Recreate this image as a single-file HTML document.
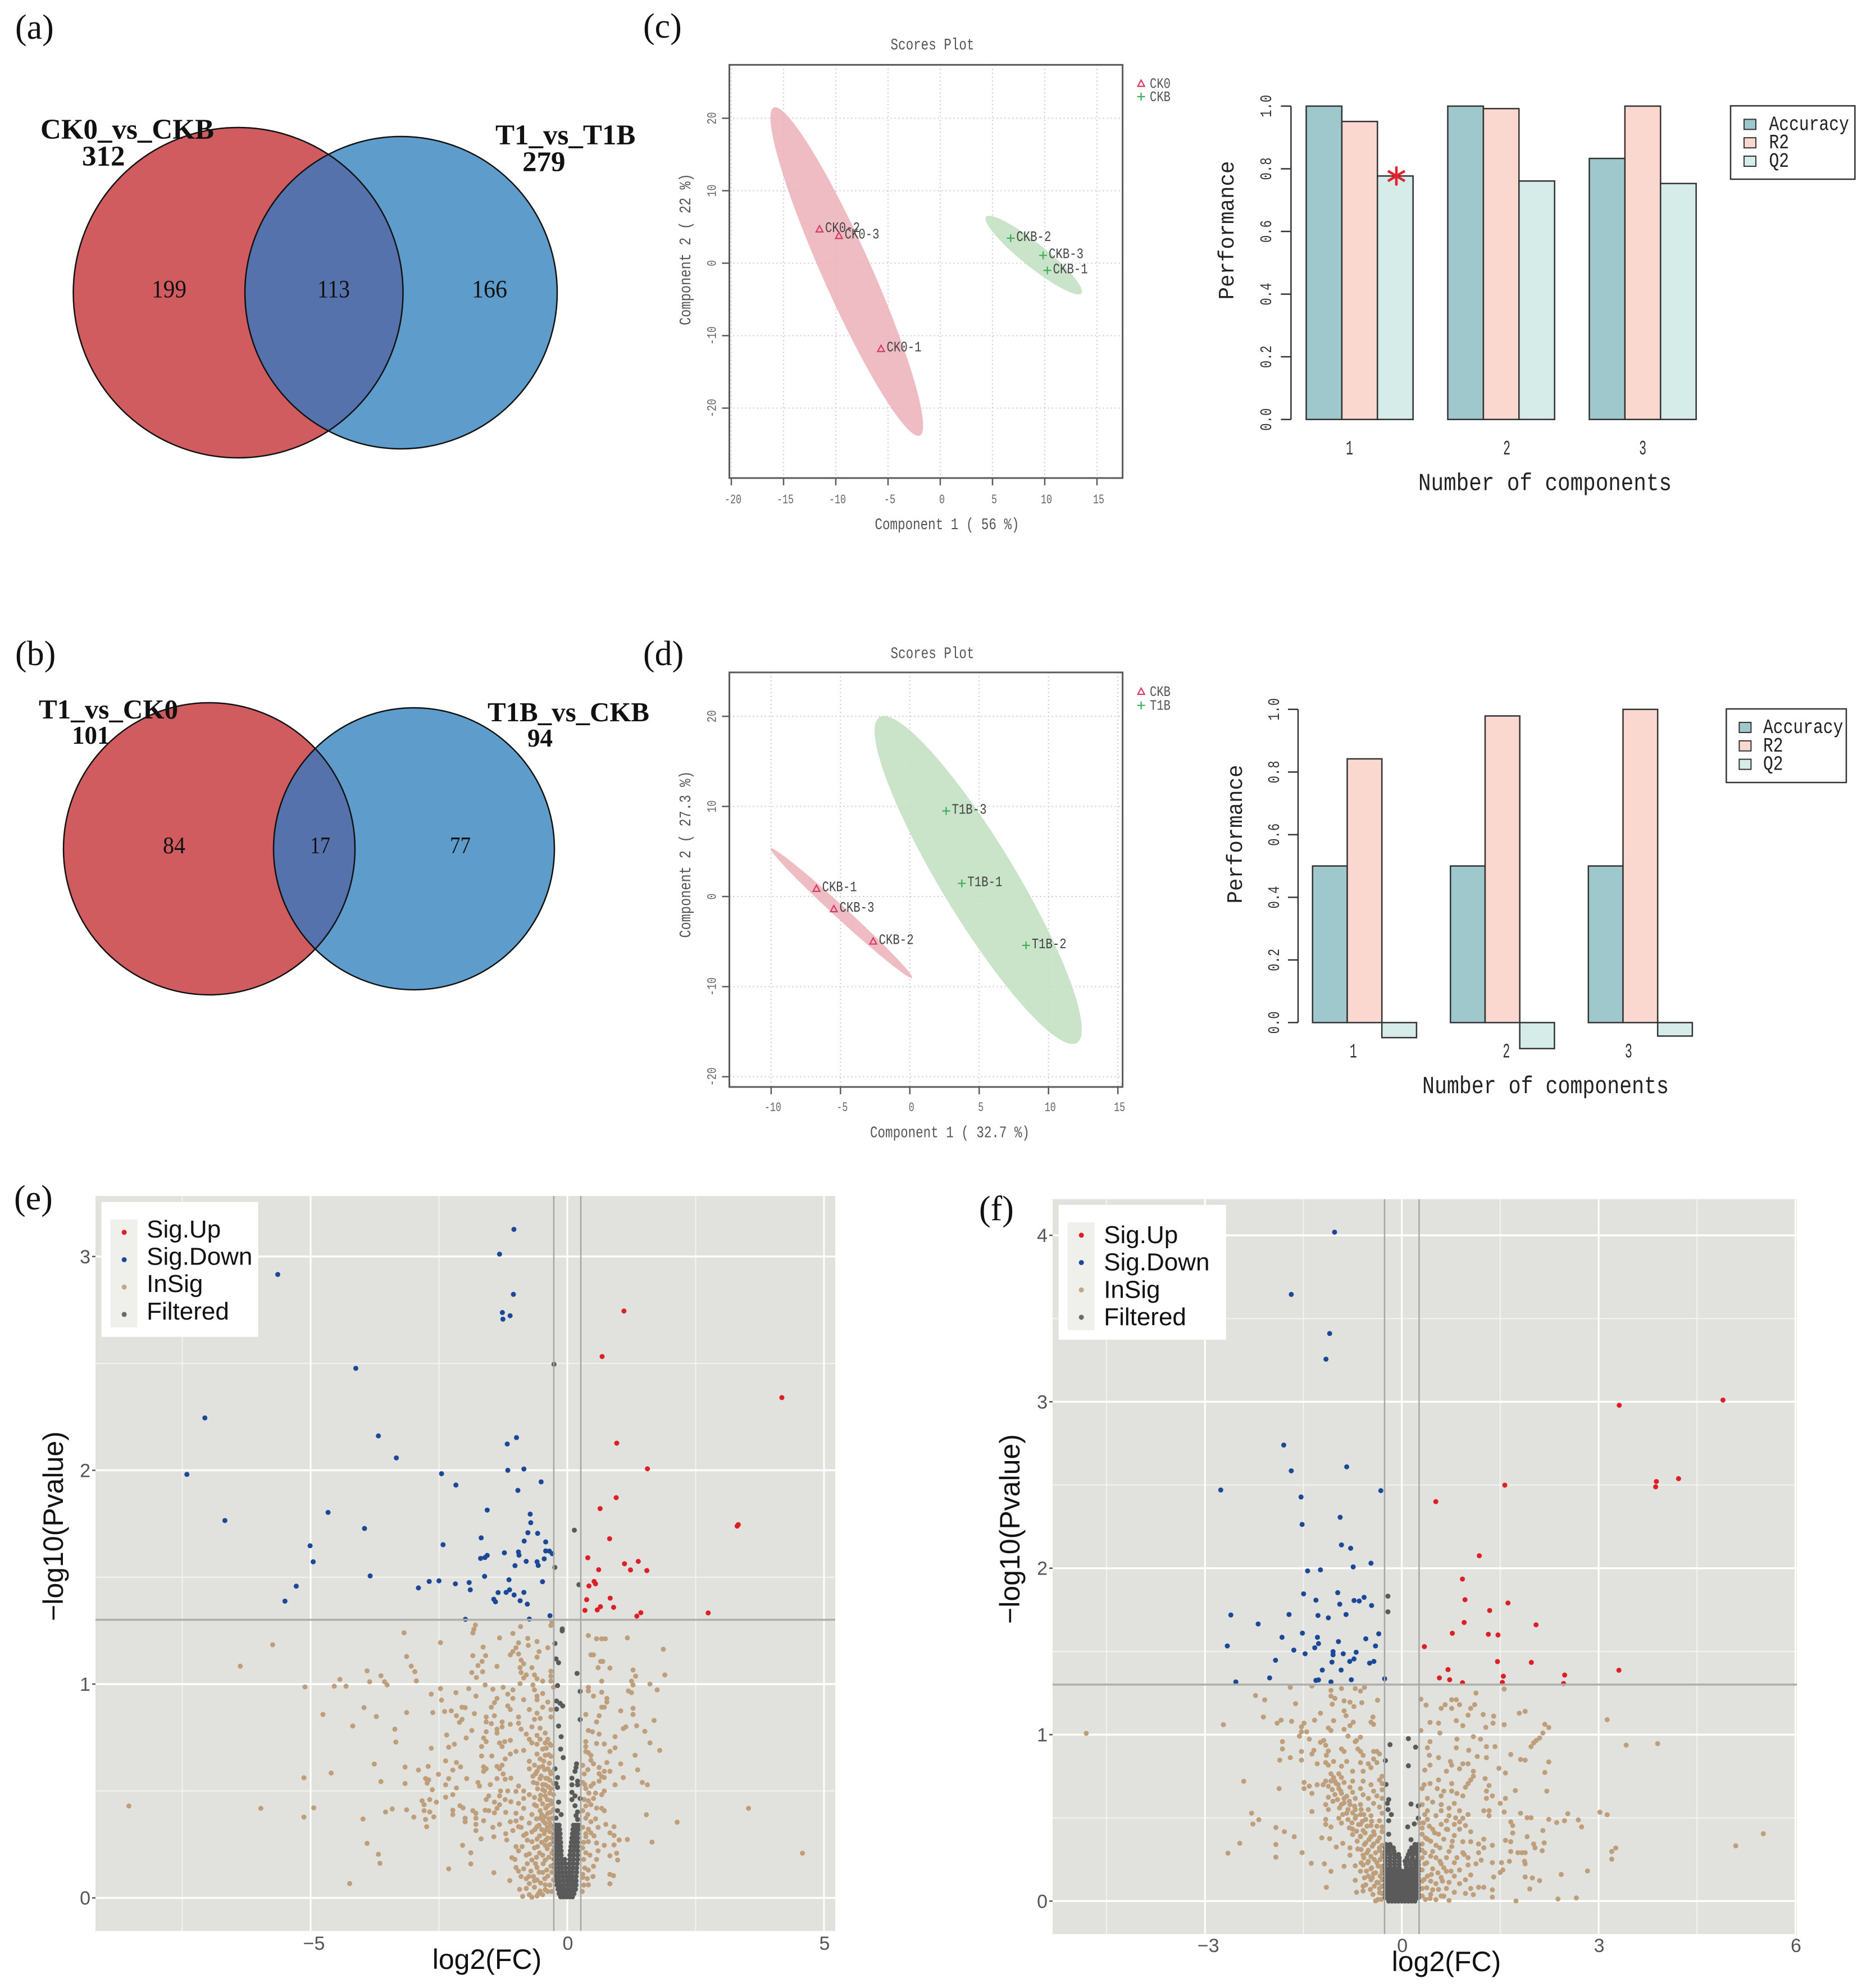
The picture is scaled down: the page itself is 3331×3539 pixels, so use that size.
<!DOCTYPE html>
<html lang="en">
<head>
<meta charset="utf-8">
<title>Venn, PLS-DA and volcano plots</title>
<style>
html,body{margin:0;padding:0;background:#fff;}
svg{display:block;}
</style>
</head>
<body>
<svg id="figure" xmlns="http://www.w3.org/2000/svg" width="3331" height="3539" viewBox="0 0 3331 3539">
<defs>
<clipPath id="clip-a"><circle cx="714" cy="521" r="278"/></clipPath>
<clipPath id="clip-b"><ellipse cx="737" cy="1511" rx="250" ry="251"/></clipPath>
</defs>
<rect x="0" y="0" width="3331" height="3539" fill="#ffffff"/>

<g font-family="'Liberation Serif',serif" fill="#111">
<ellipse cx="424" cy="521" rx="293.5" ry="294" fill="#d15c60"/>
<circle cx="714" cy="521" r="278" fill="#5e9ccb"/>
<ellipse cx="424" cy="521" rx="293.5" ry="294" fill="#5572ac" clip-path="url(#clip-a)"/>
<ellipse cx="424" cy="521" rx="293.5" ry="294" fill="none" stroke="#111" stroke-width="2.5"/>
<circle cx="714" cy="521" r="278" fill="none" stroke="#111" stroke-width="2.5"/>
<text x="72" y="247" font-size="51" font-weight="bold" textLength="309" lengthAdjust="spacingAndGlyphs">CK0_vs_CKB</text>
<text x="146" y="295" font-size="51" font-weight="bold">312</text>
<text x="882" y="257" font-size="51" font-weight="bold">T1_vs_T1B</text>
<text x="930" y="305" font-size="51" font-weight="bold">279</text>
<text x="270" y="529" font-size="44" textLength="62" lengthAdjust="spacingAndGlyphs">199</text>
<text x="565" y="529" font-size="44" textLength="58" lengthAdjust="spacingAndGlyphs">113</text>
<text x="840" y="529" font-size="44" textLength="63" lengthAdjust="spacingAndGlyphs">166</text>
</g>

<g font-family="'Liberation Serif',serif" fill="#111">
<ellipse cx="372.5" cy="1511" rx="259.5" ry="260" fill="#d15c60"/>
<ellipse cx="737" cy="1511" rx="250" ry="251" fill="#5e9ccb"/>
<ellipse cx="372.5" cy="1511" rx="259.5" ry="260" fill="#5572ac" clip-path="url(#clip-b)"/>
<ellipse cx="372.5" cy="1511" rx="259.5" ry="260" fill="none" stroke="#111" stroke-width="2.5"/>
<ellipse cx="737" cy="1511" rx="250" ry="251" fill="none" stroke="#111" stroke-width="2.5"/>
<text x="69" y="1279" font-size="49" font-weight="bold" textLength="248" lengthAdjust="spacingAndGlyphs">T1_vs_CK0</text>
<text x="128" y="1324" font-size="45" font-weight="bold">101</text>
<text x="868" y="1284" font-size="49" font-weight="bold" textLength="288" lengthAdjust="spacingAndGlyphs">T1B_vs_CKB</text>
<text x="939" y="1329" font-size="45" font-weight="bold">94</text>
<text x="290" y="1519" font-size="42" textLength="40" lengthAdjust="spacingAndGlyphs">84</text>
<text x="552" y="1519" font-size="42" textLength="36" lengthAdjust="spacingAndGlyphs">17</text>
<text x="801" y="1519" font-size="42" textLength="37" lengthAdjust="spacingAndGlyphs">77</text>
</g>

<g font-family="'Liberation Serif',serif" font-size="62" fill="#111">
<text x="27" y="69">(a)</text>
<text x="27" y="1184">(b)</text>
<text x="1145" y="67">(c)</text>
<text x="1145" y="1184">(d)</text>
<text x="25" y="2153">(e)</text>
<text x="1743" y="2172">(f)</text>
</g>
<g id="charts"></g>
</svg>

<script>
/* ---------- scores plot data ---------- */
const scoresCLabels=['CK0-1','CK0-2','CK0-3','CKB-1','CKB-2','CKB-3'];
const scoresCComp1=[-5.67,-11.56,-9.7,10.25,6.74,9.84];
const scoresCComp2=[-11.8,4.7,3.8,-1.0,3.45,1.07];
const scoresCGroups=[0,0,0,1,1,1];
const scoresCGroupNames=['CK0','CKB'];
const scoresCEllipseX=[-8.95,8.95];
const scoresCEllipseY=[-1.16,1.12];
const scoresCXTicks=[-20,-15,-10,-5,0,5,10,15];
const scoresCYTicks=[-20,-10,0,10,20];

const scoresDLabels=['CKB-1','CKB-2','CKB-3','T1B-1','T1B-2','T1B-3'];
const scoresDComp1=[-6.73,-2.64,-5.48,3.75,8.38,2.62];
const scoresDComp2=[0.89,-4.96,-1.37,1.46,-5.42,9.5];
const scoresDGroups=[0,0,0,1,1,1];
const scoresDGroupNames=['CKB','T1B'];
const scoresDEllipseX=[-4.93,4.93];
const scoresDEllipseY=[-1.85,1.84];
const scoresDXTicks=[-10,-5,0,5,10,15];
const scoresDYTicks=[-20,-10,0,10,20];

/* ---------- performance bars data ---------- */
const perfCategories=['1','2','3'];
const perfSeriesNames=['Accuracy','R2','Q2'];
const perfTicks=[0,0.2,0.4,0.6,0.8,1.0];
const perfCAccuracy=[1.0,1.0,0.833];
const perfCR2=[0.951,0.992,1.0];
const perfCQ2=[0.777,0.761,0.753];
const perfDAccuracy=[0.5,0.5,0.5];
const perfDR2=[0.842,0.979,1.0];
const perfDQ2=[-0.048,-0.083,-0.043];

/* ---------- volcano e data: [log2FC, -log10P] ---------- */
const volcanoLegendNames=['Sig.Up','Sig.Down','InSig','Filtered'];
const volcanoEYTicks=[0,1,2,3];
const volcanoEYMinor=[0.5,1.5,2.5];
const volcanoEXTicks=[-5,0,5];
const volcanoEXMinor=[-7.5,-2.5,2.5];
const volcanoEUp=[[1.103,2.745],[.678,2.532],[4.179,2.34],[.963,2.127],[1.561,2.007],[.952,1.872],[.639,1.821],[3.33,1.746],[3.308,1.739],[.824,1.68],[.399,1.591],[1.382,1.574],[1.114,1.563],[.611,1.535],[1.231,1.534],[1.549,1.531],[.522,1.48],[.55,1.469],[.422,1.459],[.835,1.402],[.377,1.395],[.902,1.359],[.645,1.362],[.583,1.347],[.343,1.345],[1.432,1.334],[1.354,1.318],[2.744,1.333]];
const volcanoEDown=[[-5.64,2.916],[-4.12,2.477],[-7.06,2.245],[-3.68,2.161],[-3.33,2.058],[-7.41,1.981],[-2.45,1.984],[-4.66,1.803],[-6.67,1.765],[-3.95,1.728],[-5.01,1.647],[-2.42,1.652],[-4.95,1.572],[-3.84,1.506],[-5.28,1.458],[-2.9,1.45],[-2.69,1.48],[-2.5,1.483],[-5.5,1.388],[-1.04,3.127],[-1.32,3.011],[-1.05,2.823],[-1.265,2.738],[-1.114,2.723],[-1.254,2.707],[-.99,2.153],[-1.17,2.123],[-1.159,2.0],[-.846,2.006],[-2.17,1.931],[-.51,1.946],[-.963,1.906],[-1.56,1.814],[-.723,1.795],[-.712,1.755],[-.768,1.708],[-.578,1.705],[-1.678,1.684],[-.84,1.669],[-.421,1.665],[-1.226,1.614],[-.952,1.618],[-.941,1.603],[-.421,1.623],[-.349,1.622],[-.293,1.61],[-1.689,1.588],[-1.605,1.592],[-1.56,1.602],[-.801,1.574],[-.589,1.572],[-.567,1.555],[-.45,1.586],[-1.019,1.554],[-1.611,1.504],[-1.136,1.488],[-.483,1.479],[-2.18,1.469],[-1.912,1.475],[-1.89,1.441],[-1.348,1.428],[-1.192,1.429],[-1.125,1.441],[-1.036,1.417],[-.846,1.429],[-1.432,1.397],[-1.399,1.385],[-.919,1.39],[-.779,1.374],[-1.985,1.303],[-.74,1.304],[-.338,1.32]];
const volcanoEInsig=[[-8.54,.43],[-5.97,.419],[-4.94,.421],[-5.13,.378],[-5.13,.562],[-4.6,.584],[-6.37,1.084],[-5.74,1.184],[-5.11,.987],[-4.54,.99],[-4.43,1.022],[-4.31,.99],[-3.9,1.062],[-3.85,1.011],[-3.63,1.039],[-3.56,1.011],[-3.51,.996],[-3.18,1.24],[-2.47,1.194],[-3.13,1.129],[-3.04,1.084],[-2.97,1.058],[-2.94,1.015],[-4.76,.858],[-3.96,.89],[-3.72,.848],[-4.18,.804],[-3.13,.867],[-3.36,.789],[-3.34,.729],[-3.76,.626],[-3.16,.612],[-2.9,.598],[-2.71,.615],[-3.63,.544],[-3.16,.535],[-3.98,.369],[-3.54,.402],[-3.41,.416],[-3.13,.412],[-2.99,.378],[-3.9,.255],[-3.68,.204],[-3.65,.162],[-4.24,.067],[-2.31,.136],[-1.43,.118],[-1.12,.081],[-1.88,.159],[-2.04,.246],[-1.88,.211],[-1.68,.276],[-1.43,.286],[-1.18,.271],
[3.53,.419],[4.58,.209],[2.14,.354],[1.54,.389],[1.65,.261],[1.56,.529],[1.46,.54],[1.09,.563],[1.37,.599],[1.61,.725],[1.8,.69],[1.32,.667],[1.51,.779],[1.69,.83],[1.35,.805],[1.09,.792],[1.14,.8],[1.75,.973],[1.61,1.0],[1.9,1.043],[1.87,1.163],[1.17,1.216],[.67,1.212],[.57,1.212],[.74,1.212],[.41,1.227],[.46,1.137],[.51,1.137],[.65,1.106],[.69,1.106],[.6,1.077],[.83,1.075],[1.28,1.066],[1.33,1.037],[1.25,1.014],[1.28,.996],[.67,1.014],[.41,.985],[.41,.968],[.67,.962],[.51,.944],[.77,.933],[.77,.916],[.67,.892],[.72,.892],[1.04,.875],[1.28,.887],[1.28,.858],[.36,.858],[.62,.852],[.57,.823],[1.19,.968],[1.25,.96],[.41,.783],[.62,.766],[.49,.777],[.93,.754],[.36,.731],[.57,.722],[.72,.72],[.93,.702],[.83,.685],[.36,.708],[.36,.685],[.46,.667],[.41,.679],[.46,.644],[.77,.633],[1.04,.627],[.51,.627],[.62,.61],[.72,.592],[.83,.592],[.62,.581],[.67,.567],[.72,.563],[.62,.546],[.51,.535],[.93,.529],[.3,.54],[.46,.523],[.36,.511],[.72,.5],[.67,.483],[.51,.465],[.41,.454],[.46,.436],[.67,.419],[.72,.408],[.3,.408],[.36,.373],[.46,.356],[.75,.344],[.91,.333],[.41,.321],[.46,.304],[.83,.304],[.91,.292],[.36,.286],[.41,.263],[1.01,.271],[1.17,.273],[.57,.257],[.72,.246],[.91,.248],[.3,.234],[.36,.211],[.83,.197],[.96,.209],[.98,.177],[.51,.148],[.41,.13],[.83,.11],[.9,.104],[.3,.096],[.83,.066],[.41,.061],
[-1.79,1.276],[-1.82,1.256],[-1.84,1.239],[-.91,1.269],[-1.06,1.237],[-1.32,1.216],[-1.64,1.173],[-1.84,1.133],[-1.59,1.133],[-1.66,1.106],[-1.74,1.087],[-1.37,1.083],[-1.86,1.054],[-1.65,1.058],[-1.77,1.031],[-.77,1.214],[-.76,1.181],[-.59,1.199],[-.95,1.193],[-1.0,1.17],[-1.06,1.152],[-1.11,1.137],[-.95,1.141],[-.55,1.152],[-.38,1.17],[-.32,1.274],[-.3,1.291],[-.59,1.126],[-.9,1.112],[-.85,1.095],[-.92,1.077],[-.69,1.077],[-.9,1.054],[-.8,1.043],[-.32,1.06],[-.32,1.037],[-.64,1.043],[-.59,1.025],[-.85,1.029],[-.32,1.014],[-.48,1.014],[-.67,.996],[-.92,1.002],[-1.6,.996],[-1.25,.985],[-1.45,.976],[-1.92,.979],[-2.47,.979],[-2.17,.96],[-1.78,.944],[-2.65,.953],[-2.45,.925],[-.64,.973],[-1.06,.973],[-1.16,.953],[-1.37,.933],[-1.06,.933],[-.59,.944],[-.48,.956],[-.27,.985],[-1.42,.913],[-.85,.927],[-.59,.927],[-.38,.916],[-2.05,.892],[-1.99,.89],[-2.26,.875],[-2.39,.872],[-2.62,.867],[-1.81,.862],[-1.48,.892],[-1.16,.898],[-1.11,.881],[-.74,.881],[-.48,.892],[-2.16,.852],[-.95,.846],[-1.42,.852],[-1.58,.846],[-.59,.864],[-.32,.881],[-2.05,.835],[-2.1,.821],[-1.58,.823],[-1.48,.815],[-1.27,.823],[-1.11,.812],[-.95,.817],[-.64,.835],[-.53,.84],[-.32,.846],[-1.37,.789],[-1.27,.8],[-.9,.789],[-.69,.8],[-.53,.794],[-1.86,.783],[-1.58,.777],[-.8,.766],[-.59,.76],[-.43,.771],[-1.37,.771],[-2.35,.762],[-1.97,.748],[-1.63,.748],[-1.58,.731],[-1.11,.737],[-.74,.742],[-.53,.742],[-.38,.742],[-.43,.725],[-.69,.725],[-1.22,.731],[-1.32,.725],[-2.2,.719],[-2.31,.705],[-2.65,.7],[-1.67,.708],[-1.27,.708],[-.59,.719],[-.32,.714],[-.85,.69],[-1.0,.685],[-.48,.696],[-1.67,.664],[-1.47,.664],[-1.11,.673],[-.59,.673],[-.43,.667],[-.32,.662],[-1.21,.65],[-.74,.639],[-.53,.65],[-2.37,.641],[-2.16,.633],[-1.27,.621],[-.64,.621],[-2.08,.613],[-1.63,.613],[-1.58,.604],[-1.37,.615],[-.74,.604],[-.48,.615],[-2.23,.598],[-1.63,.592],[-1.32,.604],[-.59,.592],[-.38,.604],[-2.51,.578],[-.67,.569],[-.32,.581],[-1.37,.558],[-1.21,.555],[-1.96,.558],[-2.31,.558],[-2.76,.558],[-2.7,.552],[-.53,.558],[-.38,.558],[-2.73,.537],[-2.37,.529],[-1.74,.54],[-.59,.535],[-.43,.529],[-.95,.523],[-.27,.535],[-2.16,.514],[-1.71,.523],[-2.63,.506],[-1.16,.5],[-.85,.5],[-.48,.506],[-.32,.511],[-1.0,.498],[-2.37,.471],[-2.23,.483],[-1.53,.477],[-1.32,.477],[-.74,.483],[-.43,.477],[-.27,.483],[-1.58,.46],[-1.21,.46],[-.85,.465],[-.53,.46],[-2.83,.454],[-2.68,.46],[-2.55,.448],[-1.42,.448],[-.32,.454],[-2.79,.436],[-1.32,.436],[-.95,.442],[-.64,.436],[-.38,.431],[-2.09,.431],[-2.03,.421],[-2.23,.41],[-1.84,.408],[-1.37,.419],[-1.53,.408],[-.85,.419],[-.53,.408],[-.27,.413],[-2.79,.408],[-2.68,.402],[-1.78,.396],[-1.42,.398],[-1.0,.396],[-.69,.39],[-.38,.396],[-2.23,.39],[-2.6,.379],[-2.76,.367],[-1.99,.373],[-1.78,.373],[-.89,.373],[-.53,.373],[-.29,.373],[-2.74,.333],[-1.99,.356],[-1.63,.361],[-1.78,.344],[-1.11,.356],[-.74,.35],[-.43,.35],[-1.32,.344],[-.95,.333],[-.59,.333],[-.32,.333],[-1.78,.315],[-1.06,.315],[-.69,.309],[-.43,.315],[-.27,.298],[-.85,.292],[-.59,.275],[-.38,.28],[-.69,.263],[-.27,.263],[-.95,.22],[-.64,.234],[-.43,.246],[-.74,.206],[-.48,.2],[-.27,.223],[-1.08,.188],[-.69,.177],[-.43,.177],[-.27,.182],[-1.0,.142],[-.85,.136],[-.71,.125],[-.95,.125],[-.59,.142],[-.32,.148],[-.48,.119],[-.8,.09],[-.59,.084],[-.38,.102],[-.74,.067],[-.64,.05],[-.43,.061],[-.27,.084],[-.8,.044],[-.53,.032],[-.87,.007],[-.74,.015],[-.69,.003],[-.59,.009],[-.48,.015],[-.43,.038]];
const volcanoEInsigDense=[[-.34,.72],[-.41,.7],[-.36,.67],[-.46,.64],[-.35,.63],[-.55,.61],[-.44,.6],[-.33,.59],[-.62,.58],[-.51,.57],[-.42,.56],[-.34,.55],[-.66,.54],[-.48,.53],[-.37,.52],[-.58,.51],[-.44,.5],[-.34,.49],[-.52,.48],[-.64,.47],[-.39,.46],[-.31,.44],[-.48,.44],[-.6,.43],[-.42,.42],[-.33,.4],[-.5,.39],[-.44,.38],[-.36,.37],[-.6,.37],[-.47,.36],[-.34,.35],[-.55,.34],[-.39,.33],[-.5,.32],[-.63,.32],[-.34,.31],[-.45,.3],[-.8,.3],[-.54,.29],[-.3,.28],[-.42,.27],[-.78,.27],[-.5,.26],[-.34,.25],[-.58,.24],[-.88,.24],[-.39,.23],[-.3,.21],[-.54,.21],[-.8,.2],[-.36,.19],[-.6,.19],[-.47,.16],[-.62,.16],[-.3,.15],[-.78,.16],[-.4,.13],[-.55,.12],[-.3,.12],[-.66,.1],[-.44,.09],[-.75,.1],[-.52,.07],[-.34,.06],[-.64,.08],[-.3,.03],[-.38,.03],[-.56,.02],[-.93,.04],[-.9,.1],[-1.02,.18],[-1.0,.24],[-.9,.33],[-1.0,.36],[-1.2,.4],[-1.1,.45],[-1.3,.5],[-1.1,.56],[-1.25,.58],[-1.5,.53],[-1.6,.41],[-1.45,.33],[-1.2,.3],[.3,.62],[.33,.58],[.4,.6],[.34,.53],[.42,.49],[.55,.49],[.33,.46],[.57,.42],[.36,.43],[.4,.39],[.55,.37],[.3,.33],[.6,.33],[.36,.3],[.52,.29],[.32,.26],[.6,.22],[.32,.18],[.44,.2],[.34,.14],[.57,.18],[.3,.11],[.39,.09],[.5,.1],[.32,.06],[.29,.03]];
const volcanoEFiltered=[[-.26,2.496],[.137,1.72],[-.243,1.546],[.226,1.465],[-.098,1.258],[-.1,1.249],[-.24,1.19],[-.22,1.118],[-.17,1.1],[.19,1.05],[-.19,.993],[.25,.966],[-.21,.921],[-.14,.91],[-.09,.898],[-.21,.883],[.25,.834],[-.17,.804],[-.12,.754],[-.13,.696],[-.08,.656],[.18,.627],[.17,.61],[.15,.592],[-.24,.604],[-.19,.563],[.09,.56],[.2,.546],[.2,.529],[.09,.529],[-.22,.535],[-.19,.517],[.09,.494],[.15,.477],[.09,.46],[.25,.465],[-.17,.448],[.15,.431],[-.19,.408],[-.12,.39],[.2,.402],[-.22,.373],[.17,.385],[.2,.367]];
const volcanoEFilteredCore=[[.34,[-.24,-.2,-.16,.12,.17,.22]],[.32,[-.24,-.2,-.15,.11,.16,.21]],[.30,[-.24,-.19,-.14,.1,.15,.2]],[.28,[-.24,-.19,-.14,.09,.15,.2]],[.26,[-.24,-.19,-.13,.08,.14,.2]],[.24,[-.24,-.18,-.13,.07,.14,.2]],[.22,[-.24,-.18,-.12,.06,.13,.2]],[.20,[-.24,-.18,-.12,.05,.12,.2]],[.18,[-.24,-.18,-.11,-.05,.05,.12,.2]],[.16,[-.24,-.17,-.11,-.04,.04,.11,.19]],[.14,[-.24,-.17,-.1,-.03,.04,.11,.18]],[.12,[-.23,-.16,-.1,-.03,.04,.1,.18]],[.10,[-.22,-.16,-.09,-.02,.04,.1,.17]],[.08,[-.21,-.15,-.08,-.01,.05,.11,.17]],[.06,[-.2,-.14,-.07,0,.06,.12,.17]],[.04,[-.18,-.12,-.06,0,.06,.12,.16]],[.02,[-.16,-.1,-.04,.02,.08,.13]],[.005,[-.13,-.07,-.01,.05,.1]]];

/* ---------- volcano f data: [log2FC, -log10P] ---------- */
const volcanoFYTicks=[0,1,2,3,4];
const volcanoFYMinor=[0.5,1.5,2.5,3.5];
const volcanoFXTicks=[-3,0,3,6];
const volcanoFXMinor=[-4.5,-1.5,1.5,4.5];
const volcanoFUp=[[3.314,2.979],[4.895,3.01],[4.218,2.538],[3.88,2.521],[3.869,2.489],[1.57,2.499],[.518,2.4],[1.181,2.075],[.924,1.935],[.963,1.811],[1.618,1.791],[1.339,1.746],[.95,1.674],[2.046,1.66],[.77,1.609],[1.319,1.603],[1.466,1.599],[.344,1.529],[1.458,1.439],[1.974,1.434],[.704,1.391],[3.309,1.387],[2.482,1.358],[1.548,1.351],[.573,1.341],[.729,1.33],[.925,1.312],[1.532,1.314],[2.465,1.307]];
const volcanoFDown=[[-1.025,4.019],[-1.685,3.645],[-1.10,3.41],[-1.156,3.256],[-1.80,2.74],[-.84,2.609],[-1.685,2.585],[-2.76,2.47],[-.32,2.466],[-1.536,2.428],[-.94,2.306],[-1.52,2.263],[-.92,2.14],[-.78,2.12],[-.47,2.03],[-.741,2.008],[-1.436,1.984],[-1.24,1.99],[-1.497,1.846],[-.977,1.853],[-1.309,1.808],[-.728,1.806],[-.649,1.803],[-.575,1.825],[-.946,1.784],[-.461,1.776],[-2.606,1.719],[-1.719,1.722],[-1.278,1.716],[-1.12,1.702],[-.85,1.722],[-2.19,1.665],[-1.515,1.61],[-1.826,1.585],[-1.286,1.585],[-2.66,1.533],[-1.27,1.547],[-.966,1.559],[-.549,1.576],[-.352,1.606],[-.401,1.533],[-1.327,1.522],[-1.646,1.508],[-1.474,1.486],[-1.048,1.499],[-1.048,1.48],[-.893,1.486],[-.696,1.495],[-.729,1.455],[-.794,1.44],[-1.065,1.436],[-.426,1.44],[-.491,1.43],[-1.925,1.447],[-1.212,1.388],[-.925,1.388],[-2.015,1.341],[-2.53,1.317],[-1.31,1.326],[-1.27,1.329],[-.77,1.33],[-1.08,1.317],[-.262,1.336]];
const volcanoFInsig=[[-4.81,1.008],[-2.72,1.06],[-2.11,1.106],[-2.23,1.235],[-2.09,1.209],[-1.62,1.186],[-1.7,1.284],[-2.41,.72],[-1.87,.676],[-2.29,.528],[-2.18,.489],[-2.27,.463],[-2.47,.347],[-2.65,.288],[-1.92,.34],[-1.92,.264],[-1.92,.442],[-1.79,.417],[-1.64,.387],[-1.52,.291],[-1.38,.227],[-1.18,.224],[-1.08,.179],[-1.15,.083],[-.69,.053],[-.71,.125],[-.4,.001],[3.13,1.09],[3.42,.937],[3.9,.946],[3.02,.534],[3.13,.519],[2.53,.525],[2.69,.488],[2.48,.483],[2.36,.472],[2.24,.491],[2.74,.446],[5.51,.405],[5.09,.332],[3.26,.319],[3.2,.298],[3.2,.252],[2.83,.181],[2.43,.16],[2.38,.013],[2.66,.019],[1.74,.001],[2.15,.424],[2.17,.35],[2.01,.343],[2.03,.32],[2.14,.303],[1.91,.387],[1.88,.291],[1.77,.291],[1.66,.298],[1.83,.291],[1.87,.239],[1.88,.224],[1.88,.145],[1.99,.139],[2.1,.123],[1.95,.073],[2.21,.661],[2.18,.773],[2.24,.836],[2.15,1.01],[2.18,1.062],[2.24,1.043],[2.1,.98],[2.05,.965],[2.01,.951],[1.97,.928],[1.88,1.14],[1.79,1.129],[1.66,.881],[1.81,.851],[1.88,.847],[1.73,.664],[1.81,.528],[1.91,.501],[1.97,.501],[1.66,.476],[1.69,.454],[1.69,.409],[1.58,.365],[1.66,.357],[1.52,.231],[1.64,.239],[1.54,.187],[1.5,.172],[1.4,.145],[1.25,.083],[1.38,.068],[1.38,.024],[1.17,.083],[1.05,.076],[.97,.046],[1.09,.039],
[1.13,1.25],[1.56,1.274],[1.24,1.121],[1.4,1.111],[1.01,1.117],[1.39,1.069],[1.56,1.06],[1.28,1.044],[.83,1.084],[.93,1.054],[.56,1.069],[.43,1.074],[.29,1.213],[.37,1.178],[.76,1.21],[.83,1.21],[.66,1.18],[.6,1.158],[.76,1.158],[.88,1.18],[1.05,1.158],[1.11,1.18],[.29,1.025],[.58,1.01],[1.09,.988],[1.2,.973],[.84,.973],[1.29,.928],[1.42,.928],[.83,.921],[.43,.958],[.39,.921],[1.02,.906],[.42,.876],[.56,.862],[1.15,.869],[1.29,.862],[.43,.817],[.35,.787],[.74,.839],[.76,.817],[.93,.825],[1.01,.825],[.88,.795],[.68,.78],[1.09,.78],[1.48,.798],[1.58,.77],[1.27,.736],[1.09,.75],[1.05,.728],[1.01,.706],[.97,.684],[.56,.728],[.43,.706],[.34,.699],[.31,.676],[.76,.706],[.54,.676],[.64,.661],[.76,.661],[.84,.647],[.6,.632],[1.33,.694],[1.29,.661],[1.38,.632],[.93,.632],[1.29,.617],[1.58,.617],[1.5,.587],[.39,.617],[.47,.595],[.6,.58],[.8,.587],[.31,.58],[.39,.543],[.35,.52],[.72,.558],[.6,.543],[.88,.543],[1.01,.52],[1.25,.543],[1.33,.543],[1.56,.535],[.52,.513],[.72,.513],[.93,.498],[.68,.483],[1.33,.513],[.39,.491],[.88,.476],[.27,.469],[.6,.461],[.8,.461],[.97,.454],[.31,.439],[.47,.432],[.68,.432],[.88,.432],[1.05,.417],[.31,.402],[.56,.402],[.8,.394],[1.25,.372],[1.38,.335],[1.17,.343],[1.05,.357],[.39,.372],[.64,.372],[.93,.357],[.31,.343],[.52,.335],[.76,.328],[1.25,.32],[.31,.305],[.47,.298],[.72,.298],[.93,.291],[1.17,.291],[1.01,.261],[.31,.261],[.52,.261],[.68,.261],[.84,.261],[1.21,.246],[.35,.224],[.6,.224],[.8,.231],[1.01,.217],[1.13,.224],[.31,.187],[.47,.194],[.68,.179],[.88,.187],[1.38,.231],[1.05,.157],[.39,.15],[.6,.142],[.8,.15],[.97,.128],[.31,.12],[.52,.105],[.72,.113],[.88,.105],[.31,.076],[.47,.068],[.68,.076],[.8,.053],[.31,.031],[.43,.016],[.6,.031],[.72,.004],[.52,.009],
[-1.37,1.292],[-1.08,1.266],[-.92,1.277],[-.71,1.277],[-.63,1.262],[-.57,1.284],[-1.08,1.232],[-1.02,1.218],[-.88,1.203],[-.79,1.195],[-1.06,1.183],[-.61,1.192],[-.73,1.169],[-.37,1.207],[-.88,1.143],[-.85,1.114],[-1.24,1.129],[-.44,1.106],[-1.33,1.087],[-1.04,1.084],[-.74,1.075],[-1.84,1.087],[-1.9,1.069],[-1.68,1.08],[-1.49,1.069],[-1.53,1.047],[-.47,1.075],[-.43,1.062],[-.79,1.054],[-1.12,1.04],[-1.08,1.025],[-.88,1.032],[-1.53,1.017],[-1.45,1.017],[-1.56,.991],[-.82,.991],[-.63,.985],[-.69,.965],[-1.41,.973],[-1.24,.954],[-1.82,.958],[-1.19,.965],[-1.16,.936],[-.71,.958],[-.38,.899],[-1.82,.914],[-1.53,.899],[-1.34,.906],[-1.37,.884],[-1.12,.902],[-1.15,.876],[-.92,.914],[-.88,.899],[-.67,.914],[-.63,.899],[-.43,.899],[-1.7,.862],[-1.86,.847],[-1.53,.847],[-.59,.876],[-.43,.854],[-.34,.884],[-1.29,.825],[-1.16,.832],[-1.04,.839],[-.84,.839],[-.63,.832],[-.51,.825],[-.38,.832],[-.92,.81],[-1.12,.817],[-.75,.78],[-.59,.78],[-.47,.802],[-1.08,.765],[-.96,.765],[-.3,.75],[-.34,.728],[-1.04,.743],[-.92,.743],[-1.16,.721],[-1.08,.721],[-1.49,.713],[-1.29,.699],[-1.41,.691],[-1.2,.699],[-1.0,.706],[-.88,.713],[-.75,.721],[-.59,.721],[-.47,.699],[-.3,.706],[-1.49,.676],[-1.37,.647],[-1.12,.624],[-.96,.676],[-.79,.684],[-.63,.676],[-.43,.661],[-.3,.669],[-.92,.647],[-.75,.654],[-.59,.639],[-.38,.632],[-.88,.617],[-.71,.617],[-.51,.617],[-.3,.617],[-.92,.58],[-1.16,.58],[-.79,.58],[-.63,.58],[-.43,.587],[-1.12,.55],[-.71,.55],[-.51,.55],[-.34,.565],[-1.37,.538],[-.84,.528],[-.63,.52],[-.47,.513],[-.3,.528],[-1.16,.491],[-.96,.498],[-.71,.498],[-.55,.491],[-.34,.483],[-1.16,.461],[-.92,.469],[-1.08,.446],[-.63,.461],[-.47,.454],[-.3,.446],[-.75,.432],[-.59,.424],[-.43,.417],[-.3,.417],[-1.22,.38],[-1.1,.375],[-.63,.387],[-.47,.387],[-.34,.38],[-.9,.347],[-.55,.35],[-.43,.343],[-.3,.335],[-1.0,.325],[-.79,.32],[-.67,.313],[-.51,.305],[-.34,.305],[-.79,.276],[-.59,.276],[-.47,.268],[-.3,.268],[-.51,.239],[-.38,.231],[-.71,.212],[-.59,.217],[-.88,.209],[-.3,.209],[-.47,.194],[-.63,.179],[-.43,.165],[-.3,.172],[-.51,.15],[-.47,.128],[-.38,.113],[-.3,.128],[-.55,.098],[-.34,.076],[-.59,.09],[-.59,.061],[-.3,.046],[-.26,.031]];
const volcanoFInsigDense=[[-1.02,.72],[-.97,.7],[-1.12,.69],[-1.06,.67],[-.93,.66],[-1.02,.64],[-.84,.63],[-.98,.61],[-.8,.6],[-1.05,.6],[-.88,.59],[-.72,.57],[-.95,.56],[-.82,.55],[-.62,.55],[-.75,.53],[-.9,.52],[-.58,.52],[-.7,.51],[-.82,.49],[-.6,.48],[-.46,.48],[-.76,.47],[-.66,.46],[-.53,.45],[-.38,.45],[-.8,.44],[-.69,.42],[-.56,.41],[-.42,.4],[-.75,.4],[-.63,.39],[-.5,.37],[-.37,.36],[-.68,.36],[-.57,.34],[-.45,.33],[-.34,.32],[-.62,.31],[-.53,.29],[-.4,.29],[-.3,.29],[-.58,.26],[-.42,.25],[-.33,.25],[-.52,.23],[-.62,.23],[-.36,.21],[-.46,.2],[-.3,.19],[-.54,.18],[-.4,.17],[-.33,.15],[-.45,.14],[-.57,.14],[-.36,.11],[-.42,.09],[-.3,.09],[-.48,.07],[-.34,.05],[-.44,.04],[-.31,.01],[-.36,.01],[.33,.47],[.42,.45],[.5,.41],[.36,.38],[.44,.36],[.58,.32],[.35,.29],[.44,.27],[.58,.24],[.64,.2],[.38,.23],[.45,.16],[.55,.17],[.34,.13],[.44,.12],[.62,.12],[.75,.18],[.38,.08],[.56,.07],[.44,.04],[.36,.01],[.64,.03],[.95,.28],[.77,.36],[.7,.43],[.82,.5]];
const volcanoFFiltered=[[-.212,1.832],[-.212,1.738],[.1,.976],[-.18,.94],[.21,.925],[-.25,.844],[.1,.813],[-.24,.701],[-.2,.61],[-.22,.587],[.14,.583],[.25,.572],[-.21,.55],[-.16,.52],[.25,.498],[-.2,.483],[.19,.464],[.09,.446],[-.2,.402],[.14,.369]];
const volcanoFFilteredCore=[[.34,[-.24,-.18,.2,.25]],[.32,[-.25,-.19,-.13,.15,.2,.25]],[.30,[-.25,-.19,-.12,.12,.19,.25]],[.28,[-.25,-.18,-.11,-.05,.1,.17,.24]],[.26,[-.25,-.18,-.11,-.04,.08,.16,.24]],[.24,[-.25,-.18,-.11,-.04,.05,.12,.19,.25]],[.22,[-.25,-.18,-.11,-.04,.06,.13,.2,.25]],[.20,[-.25,-.18,-.11,-.04,.07,.14,.2,.25]],[.18,[-.25,-.2,-.15,-.1,-.05,0,.05,.1,.15,.2,.25]],[.16,[-.25,-.2,-.15,-.1,-.05,0,.05,.1,.15,.2,.25]],[.14,[-.25,-.2,-.15,-.1,-.05,0,.05,.1,.15,.2,.25]],[.12,[-.25,-.2,-.15,-.1,-.05,0,.05,.1,.15,.2,.25]],[.10,[-.25,-.2,-.15,-.1,-.05,0,.05,.1,.15,.2,.25]],[.08,[-.25,-.2,-.15,-.1,-.05,0,.05,.1,.15,.2,.25]],[.06,[-.25,-.2,-.15,-.1,-.05,0,.05,.1,.15,.2,.25]],[.04,[-.25,-.2,-.15,-.1,-.05,0,.05,.1,.15,.2,.25]],[.02,[-.25,-.2,-.15,-.1,-.05,0,.05,.1,.15,.2,.25]],[0,[-.2,-.15,-.1,-.05,0,.05,.1,.15,.2]]];

/* ---------- drawing ---------- */
const NS='http://www.w3.org/2000/svg';
const MONO="'Liberation Mono',monospace";
const SANS="'Liberation Sans',sans-serif";
const root=document.getElementById('charts');

function mk(parent,tag,attrs,content){
  const el=document.createElementNS(NS,tag);
  for(const k in attrs){el.setAttribute(k,attrs[k]);}
  if(content!==undefined){el.textContent=content;}
  parent.appendChild(el);
  return el;
}
function vtext(parent,x,y,str,attrs){
  return mk(parent,'text',Object.assign({x:x,y:y,transform:'rotate(-90 '+x+' '+y+')','text-anchor':'middle'},attrs),str);
}

function drawScores(cfg){
  const g=mk(root,'g',{});
  
  
  const X=v=>cfg.x0+v*cfg.ux;
  const Y=v=>cfg.y0-v*cfg.uy;
  const grid={stroke:'#c9c9c9','stroke-width':2,'stroke-dasharray':'2 5'};
  cfg.xTicks.forEach(t=>{
    const l=mk(g,'line',Object.assign({x1:X(t),x2:X(t),y1:cfg.top,y2:cfg.bottom},grid));
    
    
  });
  cfg.yTicks.forEach(t=>{
    const l=mk(g,'line',Object.assign({x1:cfg.left,x2:cfg.right,y1:Y(t),y2:Y(t)},grid));
    
    
  });
  cfg.ellipseX.forEach((ex,i)=>{
    const s=cfg.ellipseShape[i];
    const e=mk(g,'ellipse',{cx:0,cy:0,rx:s.a,ry:s.b,fill:i===0?'#edb3bb':'#c2e0c1','fill-opacity':.88,
      transform:'translate('+X(ex)+' '+Y(cfg.ellipseY[i])+') rotate('+s.angle+')'});
    
    
  });
  const box=mk(g,'rect',{x:cfg.left,y:cfg.top,width:cfg.right-cfg.left,height:cfg.bottom-cfg.top,fill:'none',stroke:'#5a5a5a','stroke-width':3});
  
  
  cfg.xTicks.forEach(t=>{
    const l=mk(g,'line',{x1:X(t),x2:X(t),y1:cfg.bottom,y2:cfg.bottom+13,stroke:'#5a5a5a','stroke-width':2.5});
    
    
    const ts=String(t);
    const tx=mk(g,'text',{x:X(t)+3,y:cfg.xTickY,'text-anchor':'middle','font-family':MONO,'font-size':23,fill:'#666',textLength:ts.length*10,lengthAdjust:'spacingAndGlyphs'},ts);
    
    
  });
  cfg.yTicks.forEach(t=>{
    const l=mk(g,'line',{x1:cfg.left-13,x2:cfg.left,y1:Y(t),y2:Y(t),stroke:'#5a5a5a','stroke-width':2.5});
    
    
    const ts=String(t);
    const tx=vtext(g,cfg.left-24,Y(t),ts,{'font-family':MONO,'font-size':23,fill:'#666',textLength:ts.length*11,lengthAdjust:'spacingAndGlyphs'});
    
    
  });
  const title=mk(g,'text',{x:1660,y:cfg.titleY,'text-anchor':'middle','font-family':MONO,'font-size':29,fill:'#555',textLength:149,lengthAdjust:'spacingAndGlyphs'},'Scores Plot');
  
  
  const xl=mk(g,'text',{x:cfg.xLabelX,y:cfg.xLabelY,'text-anchor':'middle','font-family':MONO,'font-size':29,fill:'#555',textLength:cfg.xLabelLen,lengthAdjust:'spacingAndGlyphs'},cfg.xLabel);
  
  
  const yl=vtext(g,1229,cfg.yLabelY,cfg.yLabel,{'font-family':MONO,'font-size':29,fill:'#555',textLength:cfg.yLabelLen,lengthAdjust:'spacingAndGlyphs'});
  
  
  const drawMark=(parent,px,py,group)=>{
    if(group===0){
      return mk(parent,'polygon',{points:(px-6)+','+(py+5)+' '+(px+6)+','+(py+5)+' '+px+','+(py-6),fill:'none',stroke:'#d63a68','stroke-width':2.2});
    }
    return mk(parent,'path',{d:'M'+(px-7)+' '+py+'H'+(px+7)+'M'+px+' '+(py-7)+'V'+(py+7),fill:'none',stroke:'#3fae5a','stroke-width':2.2});
  };
  cfg.labels.forEach((lab,i)=>{
    const px=X(cfg.comp1[i]),py=Y(cfg.comp2[i]);
    const m=drawMark(g,px,py,cfg.groups[i]);
    
    
    const t=mk(g,'text',{x:px+10,y:py+5,'font-family':MONO,'font-size':26,fill:'#444',textLength:62,lengthAdjust:'spacingAndGlyphs'},lab);
    
    
  });
  cfg.groupNames.forEach((n,i)=>{
    const ly=cfg.legendY[i];
    const m=drawMark(g,2031.6,ly,i);
    
    
    const t=mk(g,'text',{x:2047,y:ly+8,'font-family':MONO,'font-size':26,fill:'#555',textLength:37,lengthAdjust:'spacingAndGlyphs'},n);
    
    
  });
}

function drawPerf(cfg){
  const g=mk(root,'g',{});
  
  
  const Y=v=>cfg.y0-v*cfg.uy;
  const colors=['#9fc8cd','#fad7cf','#d5ece8'];
  const ax=mk(g,'line',{x1:cfg.axisX,x2:cfg.axisX,y1:Y(0),y2:Y(1),stroke:'#333','stroke-width':2.5});
  
  
  perfTicks.forEach(t=>{
    const l=mk(g,'line',{x1:cfg.axisX-18,x2:cfg.axisX,y1:Y(t),y2:Y(t),stroke:'#333','stroke-width':2.5});
    
    
    const tx=vtext(g,cfg.tickLabelX,Y(t),t.toFixed(1),{'font-family':MONO,'font-size':29,fill:'#333',textLength:40,lengthAdjust:'spacingAndGlyphs'});
    
    
  });
  cfg.series.forEach((vals,s)=>{
    vals.forEach((v,c)=>{
      const x=cfg.x0+c*cfg.step+s*cfg.barW;
      const r=mk(g,'rect',{x:x,y:Math.min(Y(v),Y(0)),width:cfg.barW,height:Math.abs(Y(v)-Y(0)),fill:colors[s],stroke:'#333','stroke-width':2.5});
      
      
    });
  });
  perfCategories.forEach((cat,c)=>{
    const cx=cfg.x0+c*cfg.step+1.5*cfg.barW+cfg.catNudge[c];
    const t=mk(g,'text',{x:cx,y:cfg.catY,'text-anchor':'middle','font-family':MONO,'font-size':36,fill:'#333',textLength:13,lengthAdjust:'spacingAndGlyphs'},cat);
    
    
  });
  const pt=vtext(g,cfg.perfX,cfg.perfY,'Performance',{'font-family':MONO,'font-size':39,fill:'#222',textLength:247,lengthAdjust:'spacingAndGlyphs'});
  
  
  const nt=mk(g,'text',{x:cfg.numX,y:cfg.numY,'font-family':MONO,'font-size':44,fill:'#222',textLength:cfg.numLen,lengthAdjust:'spacingAndGlyphs'},'Number of components');
  
  
  const lb=mk(g,'rect',{x:cfg.lgX,y:cfg.lgY,width:cfg.lgW,height:cfg.lgH,fill:'#fff',stroke:'#333','stroke-width':2.5});
  
  
  perfSeriesNames.forEach((n,i)=>{
    const rowY=cfg.lgRow0+i*cfg.lgRowStep;
    const sw=mk(g,'rect',{x:cfg.lgX+cfg.swOff,y:rowY-9,width:21,height:18,fill:colors[i],stroke:'#333','stroke-width':2});
    
    
    const t=mk(g,'text',{x:cfg.lgX+cfg.txtOff,y:rowY+10,'font-family':MONO,'font-size':36,fill:'#222',textLength:n.length*17.8,lengthAdjust:'spacingAndGlyphs'},n);
    
    
  });
  if(cfg.bestIndex!==undefined){
    const sx=cfg.x0+cfg.bestIndex*cfg.step+2.5*cfg.barW+2;
    const sy=Y(cfg.series[2][cfg.bestIndex]);
    const st=mk(g,'path',{d:'M'+sx+' '+(sy-17)+'V'+(sy+17)+'M'+(sx-15)+' '+(sy-9)+'L'+(sx+15)+' '+(sy+9)+'M'+(sx-15)+' '+(sy+9)+'L'+(sx+15)+' '+(sy-9),fill:'none',stroke:'#e8202c','stroke-width':4.5});
    
    
  }
}

function drawVolcano(cfg){
  const g=mk(root,'g',{});
  
  
  const X=v=>cfg.x0+v*cfg.ux;
  const Y=v=>cfg.y0-v*cfg.uy;
  const p=mk(g,'rect',{x:cfg.left,y:cfg.top,width:cfg.right-cfg.left,height:cfg.bottom-cfg.top,fill:'#e1e1dd'});
  
  
  cfg.xMinor.forEach(t=>{
    const l=mk(g,'line',{x1:X(t),x2:X(t),y1:cfg.top,y2:cfg.bottom,stroke:'#f3f3f1','stroke-width':2});
    
    
  });
  cfg.yMinor.forEach(t=>{
    const l=mk(g,'line',{x1:cfg.left,x2:cfg.right,y1:Y(t),y2:Y(t),stroke:'#f3f3f1','stroke-width':2});
    
    
  });
  cfg.xTicks.forEach(t=>{
    const l=mk(g,'line',{x1:X(t),x2:X(t),y1:cfg.top,y2:cfg.bottom,stroke:'#ffffff','stroke-width':3});
    
    
    const tx=mk(g,'text',{x:X(t)+(t<0?6:1),y:cfg.xTickY,'text-anchor':'middle','font-family':SANS,'font-size':34,fill:'#555'},String(t).replace('-','\u2212'));
    
    
  });
  cfg.yTicks.forEach(t=>{
    const l=mk(g,'line',{x1:cfg.left,x2:cfg.right,y1:Y(t),y2:Y(t),stroke:'#ffffff','stroke-width':3.5});
    
    
    const d=mk(g,'line',{x1:cfg.left-6,x2:cfg.left,y1:Y(t),y2:Y(t),stroke:'#555','stroke-width':2.5});
    
    
    const tx=mk(g,'text',{x:cfg.left-9,y:Y(t)+12,'text-anchor':'end','font-family':SANS,'font-size':34,fill:'#555'},String(t));
    
    
  });
  const R=4.5;
  const layer=(points,color,nm)=>{
    points.forEach(pt=>{
      const c=mk(g,'circle',{cx:X(pt[0]),cy:Y(pt[1]),r:R,fill:color});
      
      
    });
  };
  layer(cfg.insig,'#bf9f7b','point-insig');
  layer(cfg.insigDense,'#bf9f7b','point-insig');
  layer(cfg.filtered,'#5a5a5a','point-filtered');
  cfg.core.forEach(row=>{
    row[1].forEach(xv=>{
      const c=mk(g,'circle',{cx:X(xv),cy:Y(row[0]),r:R,fill:'#5a5a5a'});
      
      
    });
  });
  layer(cfg.down,'#1c4898','point-sig-down');
  layer(cfg.up,'#de1f26','point-sig-up');
  const hl=mk(g,'line',{x1:cfg.left,x2:cfg.right,y1:Y(cfg.pThreshold),y2:Y(cfg.pThreshold),stroke:'#aeaeaa','stroke-width':3.5});
  
  
  [-cfg.fcThreshold,cfg.fcThreshold].forEach(v=>{
    const l=mk(g,'line',{x1:X(v),x2:X(v),y1:cfg.top,y2:cfg.bottom,stroke:'#a6a6a2','stroke-width':2.5});
    
    
  });
  const lb=mk(g,'rect',{x:cfg.lgX,y:cfg.lgY,width:cfg.lgW,height:240,fill:'#ffffff'});
  
  
  const ks=mk(g,'rect',{x:cfg.lgX+16,y:cfg.lgY+31,width:48,height:192,fill:'#efefec'});
  
  
  const keyColors=['#de1f26','#1c4898','#c4a585','#6a6a66'];
  volcanoLegendNames.forEach((n,i)=>{
    const ry=cfg.lgY+54+i*48.7;
    const c=mk(g,'circle',{cx:cfg.lgX+40.5,cy:ry,r:4.5,fill:keyColors[i]});
    
    
    const t=mk(g,'text',{x:cfg.lgX+80.5,y:ry+cfg.lgTextDy,'font-family':SANS,'font-size':44,fill:'#111'},n);
    
    
  });
  const xt=mk(g,'text',{x:cfg.xLabelX,y:cfg.xLabelY,'text-anchor':'middle','font-family':SANS,'font-size':50,fill:'#111'},'log2(FC)');
  
  
  const yt=vtext(g,cfg.yLabelX,cfg.yLabelY,'\u2212log10(Pvalue)',{'font-family':SANS,'font-size':50,fill:'#111'});
  
  
}

drawScores({name:'scores-plot-c',left:1298.5,right:1998.6,top:115.4,bottom:851,x0:1674,ux:18.6,y0:468.5,uy:12.9,
  xTicks:scoresCXTicks,yTicks:scoresCYTicks,xTickY:896,titleY:88,xLabel:'Component 1 ( 56 %)',xLabelX:1686,xLabelY:942,xLabelLen:257,
  yLabel:'Component 2 ( 22 %)',yLabelY:444,yLabelLen:270,labels:scoresCLabels,comp1:scoresCComp1,comp2:scoresCComp2,groups:scoresCGroups,groupNames:scoresCGroupNames,
  ellipseX:scoresCEllipseX,ellipseY:scoresCEllipseY,ellipseShape:[{a:319.6,b:43.5,angle:66},{a:108.9,b:21,angle:38.7}],legendY:[148.6,172]});
drawScores({name:'scores-plot-d',left:1298.5,right:1998.6,top:1197,bottom:1935,x0:1619.8,ux:24.69,y0:1596,uy:16.04,
  xTicks:scoresDXTicks,yTicks:scoresDYTicks,xTickY:1978,titleY:1171.5,xLabel:'Component 1 ( 32.7 %)',xLabelX:1691,xLabelY:2024.6,xLabelLen:284,
  yLabel:'Component 2 ( 27.3 %)',yLabelY:1521,yLabelLen:297,labels:scoresDLabels,comp1:scoresDComp1,comp2:scoresDComp2,groups:scoresDGroups,groupNames:scoresDGroupNames,
  ellipseX:scoresDEllipseX,ellipseY:scoresDEllipseY,ellipseShape:[{a:170.6,b:11,angle:42.5},{a:339,b:66,angle:58.8}],legendY:[1231,1255.7]});

drawPerf({name:'performance-bars-c',series:[perfCAccuracy,perfCR2,perfCQ2],axisX:2298.4,tickLabelX:2263,x0:2325.5,barW:63.4,step:252,y0:746.7,uy:557.8,
  catNudge:[-18,10,0],catY:809,perfX:2196,perfY:410,numX:2525,numY:872.5,numLen:451,
  lgX:3081,lgY:188.4,lgW:221.4,lgH:130.6,swOff:24,txtOff:68.5,lgRow0:221.4,lgRowStep:32.8,bestIndex:0});
drawPerf({name:'performance-bars-d',series:[perfDAccuracy,perfDR2,perfDQ2],axisX:2311,tickLabelX:2277,x0:2336.8,barW:61.7,step:245.5,y0:1820.4,uy:557.6,
  catNudge:[-20,7,-21],catY:1882.6,perfX:2211,perfY:1485,numX:2532,numY:1946,numLen:439,
  lgX:3073.4,lgY:1262,lgW:213.6,lgH:131,swOff:23,txtOff:65.6,lgRow0:1295,lgRowStep:32.8});

drawVolcano({name:'volcano-e',left:170,right:1487,top:2129,bottom:3437.5,x0:1010,ux:91.4,y0:3378.6,uy:380.6,
  xTicks:volcanoEXTicks,xMinor:volcanoEXMinor,yTicks:volcanoEYTicks,yMinor:volcanoEYMinor,xTickY:3471,pThreshold:1.301,fcThreshold:0.263,
  up:volcanoEUp,down:volcanoEDown,insig:volcanoEInsig,insigDense:volcanoEInsigDense,filtered:volcanoEFiltered,core:volcanoEFilteredCore,
  lgX:180.6,lgY:2139.8,lgW:279,lgTextDy:9,xLabelX:867,xLabelY:3505,yLabelX:112,yLabelY:2717});
drawVolcano({name:'volcano-f',left:1874,right:3199,top:2134.7,bottom:3443,x0:2495.7,ux:116.8,y0:3384.3,uy:296.3,
  xTicks:volcanoFXTicks,xMinor:volcanoFXMinor,yTicks:volcanoFYTicks,yMinor:volcanoFYMinor,xTickY:3475,pThreshold:1.301,fcThreshold:0.263,
  up:volcanoFUp,down:volcanoFDown,insig:volcanoFInsig,insigDense:volcanoFInsigDense,filtered:volcanoFFiltered,core:volcanoFFilteredCore,
  lgX:1884.7,lgY:2144.9,lgW:298,lgTextDy:14,xLabelX:2575,xLabelY:3509,yLabelX:1815,yLabelY:2722});
</script>
</body>
</html>
